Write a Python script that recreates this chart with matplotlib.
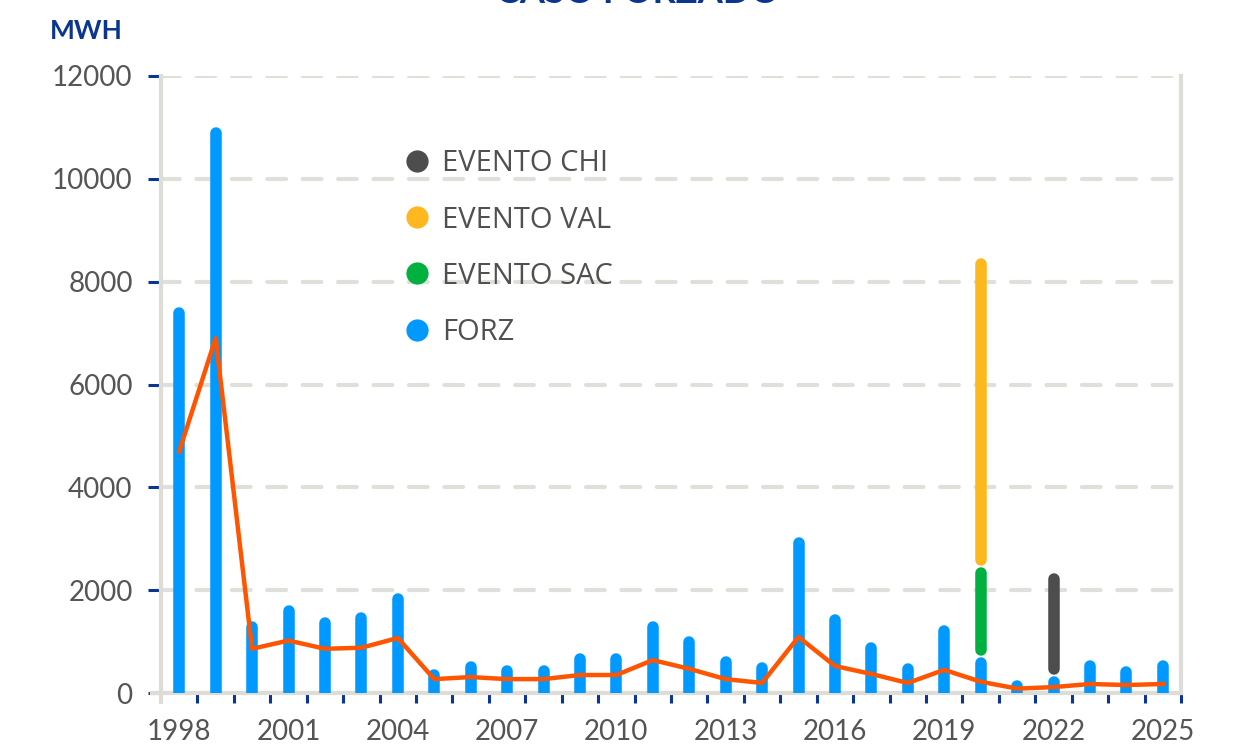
import numpy as np
import matplotlib
matplotlib.use('Agg')
import matplotlib.pyplot as plt
from matplotlib.lines import Line2D

# datos (MWH)
years = list(range(1998, 2026))
forz = [7500, 11000, 1400, 1700, 1480, 1580, 1950, 470, 620, 545,
        545, 780, 780, 1400, 1100, 720, 600, 3020, 1540, 990,
        580, 1325, 700, 250, 330, 640, 525, 640]
evento_sac = [0]*22 + [1750] + [0]*5
evento_val = [0]*22 + [6000] + [0]*5
evento_chi = [0]*24 + [2000] + [0]*3
promedio = [4700, 6900, 860, 1020, 860, 880, 1070, 270, 310, 270,
            270, 350, 350, 640, 470, 270, 195, 1090, 525, 370,
            195, 450, 220, 85, 115, 175, 155, 175]

navy = '#0b3690'
grey_axis = '#dddcd6'
txt = '#555555'
c_forz = '#0099ff'
c_sac = '#00b140'
c_val = '#fdb71f'
c_chi = '#4d4d4d'
c_line = '#ff5500'

x = np.arange(len(years))

fig = plt.figure(figsize=(12.5, 7.45), dpi=100)
ax = fig.add_axes([161/1250, 1 - 693/745, 1020/1250, 617/745])
ax.set_xlim(-0.5, len(years) - 0.5)
ax.set_ylim(0, 12000)
ax.set_axisbelow(True)

bar_lw = 8.3
px_per_unit = ax.bbox.height / 12000
r = bar_lw / 2 * 100 / 72 / px_per_unit
gap = 1.5 / px_per_unit

def seg(xi, lo, hi, color, flat_bottom=False):
    y0 = lo if flat_bottom else lo + r + gap
    ax.plot([xi, xi], [y0, hi - r], color=color, lw=bar_lw,
            solid_capstyle='round', zorder=3)

base = np.zeros(len(years))
for serie, color in [(forz, c_forz), (evento_sac, c_sac), (evento_val, c_val), (evento_chi, c_chi)]:
    for i, v in enumerate(serie):
        if v > 0:
            seg(x[i], base[i], base[i] + v, color, flat_bottom=(base[i] == 0))
    base = base + np.array(serie)

ax.plot(x, promedio, color=c_line, lw=3.2, zorder=4)

# ejes
for s in ax.spines.values():
    s.set_visible(False)
ax.plot([0, 0], [-9/617, 1], transform=ax.transAxes, color=grey_axis, lw=3, clip_on=False, zorder=2)
ax.plot([-9/1020, 1], [0, 0], transform=ax.transAxes, color=grey_axis, lw=3, clip_on=False, zorder=2)
ax.plot([1, 1], [0, 1], transform=ax.transAxes, color=grey_axis, lw=3, clip_on=False, zorder=2)

ax.set_yticks(range(0, 12001, 2000))
ax.yaxis.grid(True, color='#e0dfda', lw=3, linestyle=(0, (4.5, 4)), dash_capstyle='round')
ax.tick_params(axis='y', length=9.4, width=2.2, color=navy, pad=11,
               labelsize=20, labelcolor=txt)

ax.set_xticks(x[::3])
ax.set_xticklabels([str(y) for y in years[::3]])
ax.set_xticks(np.arange(0.5, len(years), 1), minor=True)
ax.tick_params(axis='x', which='major', length=0, pad=19, labelsize=20, labelcolor=txt)
ax.tick_params(axis='x', which='minor', length=7.5, width=2.2, color=navy)
for lab in ax.get_xticklabels() + ax.get_yticklabels():
    lab.set_fontfamily('Lato')

handles = [Line2D([], [], marker='o', ls='', markersize=16, markeredgewidth=0, color=c)
           for c in [c_chi, c_val, c_sac, c_forz]]
ax.legend(handles, ['EVENTO CHI', 'EVENTO VAL', 'EVENTO SAC', 'FORZ'],
          loc='upper left', bbox_to_anchor=(0.234, 0.881), frameon=False,
          prop={'family': 'Open Sans', 'size': 21}, labelcolor='#505050',
          handlelength=1.2, handletextpad=0.26, labelspacing=0.93,
          borderaxespad=0, borderpad=0)

fig.text(0.51, 1 - 3/745, 'CASO FORZADO', ha='center', va='baseline',
         fontsize=26, fontweight='bold', color=navy, family='Lato')
fig.text(50/1250, 1 - 39/745, 'MWH', va='baseline', fontsize=19,
         fontweight='bold', color=navy, family='Lato')

fig.savefig('out.png', dpi=100)
